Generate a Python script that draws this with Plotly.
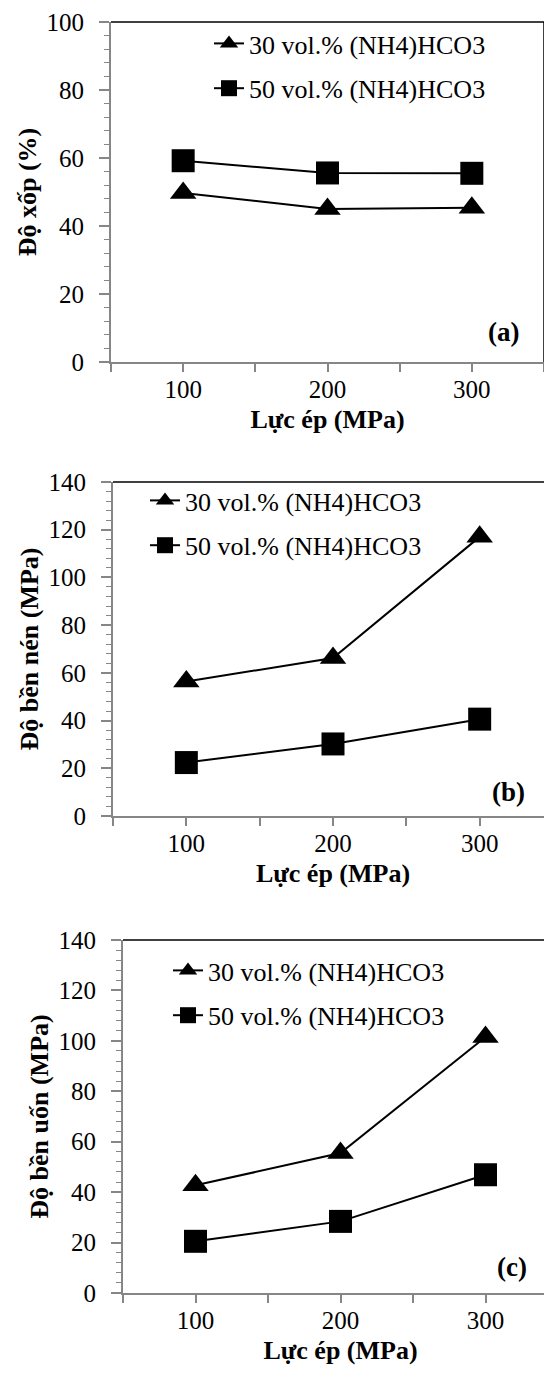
import plotly.graph_objects as go

# ---- data ----
pressure = [100, 200, 300]
series_names = ["30 vol.% (NH4)HCO3", "50 vol.% (NH4)HCO3"]
porosity_30 = [49.7, 45.0, 45.4]
porosity_50 = [59.2, 55.6, 55.5]
compress_30 = [56.4, 66.2, 117.0]
compress_50 = [22.4, 30.2, 40.6]
flex_30 = [42.7, 55.5, 101.5]
flex_50 = [20.5, 28.4, 46.9]
x_tickvals = [50, 100, 150, 200, 250, 300, 350]
x_ticktext = ["", "100", "", "200", "", "300", ""]
x_title = "Lực ép (MPa)"
y_titles = ["Độ xốp (%)", "Độ bền nén (MPa)", "Độ bền uốn (MPa)"]
panel_labels = ["(a)", "(b)", "(c)"]
y_max = [100, 140, 140]

W, H = 552, 1381
OFF = 8  # page body margin offset
FONT = "Liberation Serif, Times New Roman, Times, DejaVu Serif, serif"
GRAY = "#868686"

# plot-area pixel boxes in the target picture (left, right, top, bottom)
boxes = [(111, 544, 22, 362), (113, 553, 482, 816), (123, 558, 940, 1293)]
legend_pos = [(249, 20), (185, 477), (208, 947)]
label_pos = [(521, 332), (527, 792), (529, 1267)]


def px(x):
    return (x - OFF) / W


def py(y):
    return 1 - (y - OFF) / H


data_sets = [(porosity_30, porosity_50), (compress_30, compress_50), (flex_30, flex_50)]

fig = go.Figure()
layout = dict(
    template="none",
    width=W, height=H, margin=dict(l=0, r=0, t=0, b=0, pad=0, autoexpand=False),
    paper_bgcolor="white", plot_bgcolor="white",
    font=dict(family=FONT, size=25, color="black"),
    shapes=[], annotations=[],
)

for i, (s30, s50) in enumerate(data_sets):
    n = "" if i == 0 else str(i + 1)
    xa, ya = "x" + n, "y" + n
    leg = "legend" + n
    fig.add_trace(go.Scatter(
        x=pressure, y=s30, name=series_names[0], mode="lines+markers",
        xaxis=xa, yaxis=ya, legend=leg, legendgroup="a%d" % i,
        line=dict(color="black", width=2),
        marker=dict(symbol="triangle-up", size=23, color="black"),
    ))
    fig.add_trace(go.Scatter(
        x=pressure, y=s50, name=series_names[1], mode="lines+markers",
        xaxis=xa, yaxis=ya, legend=leg, legendgroup="b%d" % i,
        line=dict(color="black", width=2),
        marker=dict(symbol="square", size=23, color="black"),
    ))
    l, r, t, b = boxes[i]
    layout["xaxis" + n] = dict(
        domain=[px(l), min(1.0, px(r))], anchor=ya, range=[50, 350], automargin=False,
        tickmode="array", tickvals=x_tickvals, ticktext=x_ticktext,
        ticks="outside", ticklen=8, tickcolor=GRAY, tickwidth=1.5,
        showline=True, linecolor=GRAY, linewidth=2, showgrid=False, zeroline=False,
        tickfont=dict(family=FONT, size=25, color="black"), ticklabelstandoff=-4,
        title=dict(text="<b>%s</b>" % x_title, font=dict(family=FONT, size=26, color="black"), standoff=8),
        fixedrange=True,
    )
    layout["yaxis" + n] = dict(
        domain=[py(b), py(t)], anchor=xa, range=[0, y_max[i]], automargin=False,
        tickmode="linear", tick0=0, dtick=20,
        ticks="outside", ticklen=10, tickcolor=GRAY, tickwidth=1.5,
        minor=dict(dtick=4, ticks="outside", ticklen=5, tickcolor=GRAY, tickwidth=1, showgrid=False),
        showline=True, linecolor=GRAY, linewidth=2, showgrid=False, zeroline=False,
        tickfont=dict(family=FONT, size=25, color="black"), ticklabelstandoff=10,
        ticklabeloverflow="allow",
        title=dict(text="<b>%s</b>" % y_titles[i], font=dict(family=FONT, size=26, color="black"), standoff=2),
        fixedrange=True,
    )
    # black top and right border
    layout["shapes"].append(dict(type="line", xref=xa + " domain", yref=ya + " domain",
                                 x0=0, x1=1, y0=1, y1=1, line=dict(color="black", width=1.5)))
    layout["shapes"].append(dict(type="line", xref=xa + " domain", yref=ya + " domain",
                                 x0=1, x1=1, y0=0, y1=1, line=dict(color="black", width=1.5)))
    lx, ly = legend_pos[i]
    layout[leg] = dict(
        x=px(lx - 40), y=py(ly), xanchor="left", yanchor="top",
        font=dict(family=FONT, size=26, color="black"),
        bgcolor="rgba(0,0,0,0)", borderwidth=0, tracegroupgap=8,
    )
    ax_, ay_ = label_pos[i]
    layout["annotations"].append(dict(
        text="<b>%s</b>" % panel_labels[i], xref="paper", yref="paper",
        x=px(ax_), y=py(ay_), xanchor="right", yanchor="middle",
        showarrow=False, font=dict(family=FONT, size=27, color="black"),
    ))

layout["showlegend"] = True
fig.update_layout(**layout)
fig.write_html("out.html")
